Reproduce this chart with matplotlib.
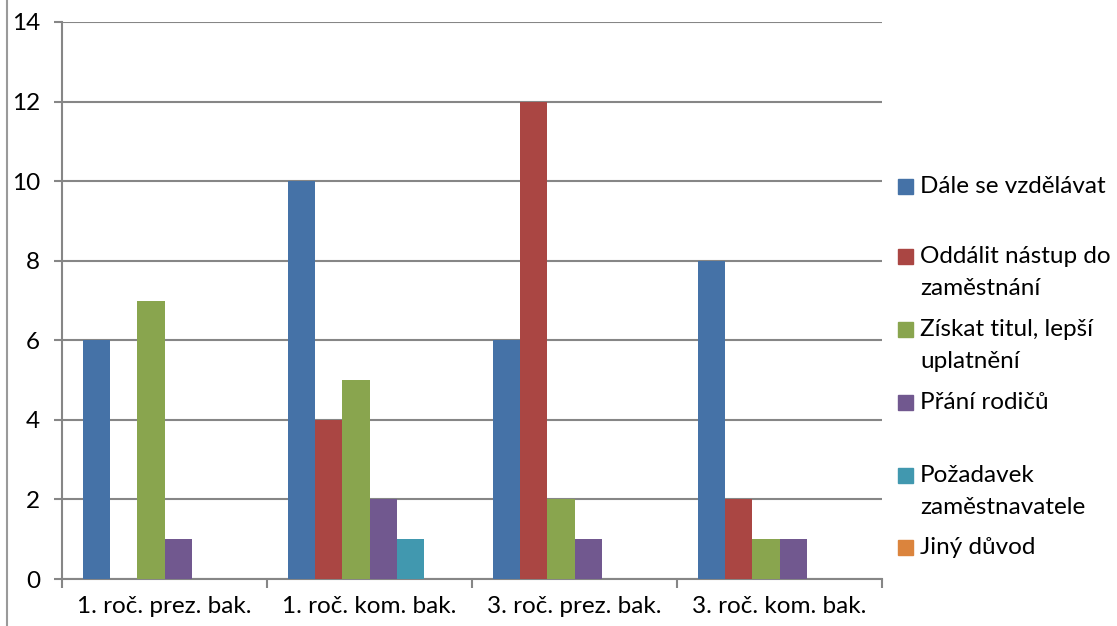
import matplotlib
matplotlib.use("Agg")
import matplotlib.pyplot as plt
import numpy as np
from matplotlib.patches import Rectangle
from matplotlib.lines import Line2D

plt.rcParams['font.family'] = ['Lato', 'DejaVu Sans']

groups = ["1. roč. prez. bak.", "1. roč. kom. bak.", "3. roč. prez. bak.", "3. roč. kom. bak."]
series = ["Dále se vzdělávat", "Oddálit nástup do\nzaměstnání", "Získat titul, lepší\nuplatnění",
          "Přání rodičů", "Požadavek\nzaměstnavatele", "Jiný důvod"]
vzdelavat = [6, 10, 6, 8]
oddalit = [0, 4, 12, 2]
titul = [7, 5, 2, 1]
rodice = [1, 2, 1, 1]
zamestnavatel = [0, 1, 0, 0]
jiny = [0, 0, 0, 0]
values = [vzdelavat, oddalit, titul, rodice, zamestnavatel, jiny]
colors = ["#4572A7", "#AA4643", "#89A54E", "#71588F", "#4198AF", "#DB843D"]

W, H = 1117, 626
fs = 17.5
fig = plt.figure(figsize=(W / 100, H / 100), dpi=100)
ax = fig.add_axes([62 / W, (H - 579) / H, 820 / W, 557 / H])

gray = "#868686"
n = len(series)
bw = 1 / (n + 1.5)
x = np.arange(len(groups))
for i, (vals, c) in enumerate(zip(values, colors)):
    pos = x - 0.5 + 0.75 * bw + (i + 0.5) * bw
    ax.bar(pos, vals, width=bw, color=c, zorder=3)

ax.set_xlim(-0.5, len(groups) - 0.5)
ax.set_ylim(0, 14)
ax.set_yticks(range(0, 15, 2))
ax.yaxis.grid(True, color=gray, linewidth=1.5, zorder=0)
ax.set_xticks(x)
ax.set_xticklabels(groups)
ax.set_xticks(np.arange(len(groups) + 1) - 0.5, minor=True)
ax.tick_params(axis='x', which='major', length=0, pad=12, labelsize=fs)
ax.tick_params(axis='x', which='minor', length=6.5, width=1.5, color=gray)
ax.tick_params(axis='y', length=5.8, width=1.5, color=gray, pad=10, labelsize=fs)
for s in ["top", "right"]:
    ax.spines[s].set_visible(False)
for s in ["left", "bottom"]:
    ax.spines[s].set_color(gray)
    ax.spines[s].set_linewidth(1.5)

# outer frame line on the left
fig.add_artist(Line2D([7 / W, 7 / W], [0, 1], color="#9a9a9a", linewidth=1.5))

# legend drawn by hand, one text per line
ys = [186, 256, 329, 402, 475, 547]
for lab, c, y in zip(series, colors, ys):
    fig.add_artist(Rectangle((898 / W, (H - y - 7.5) / H), 15 / W, 15 / H, color=c,
                             transform=fig.transFigure))
    for k, line in enumerate(lab.split("\n")):
        fig.text(920 / W, (H - y - 7 - 32 * k) / H, line, fontsize=fs,
                 va="baseline", ha="left")

fig.savefig("out.png", dpi=100)
